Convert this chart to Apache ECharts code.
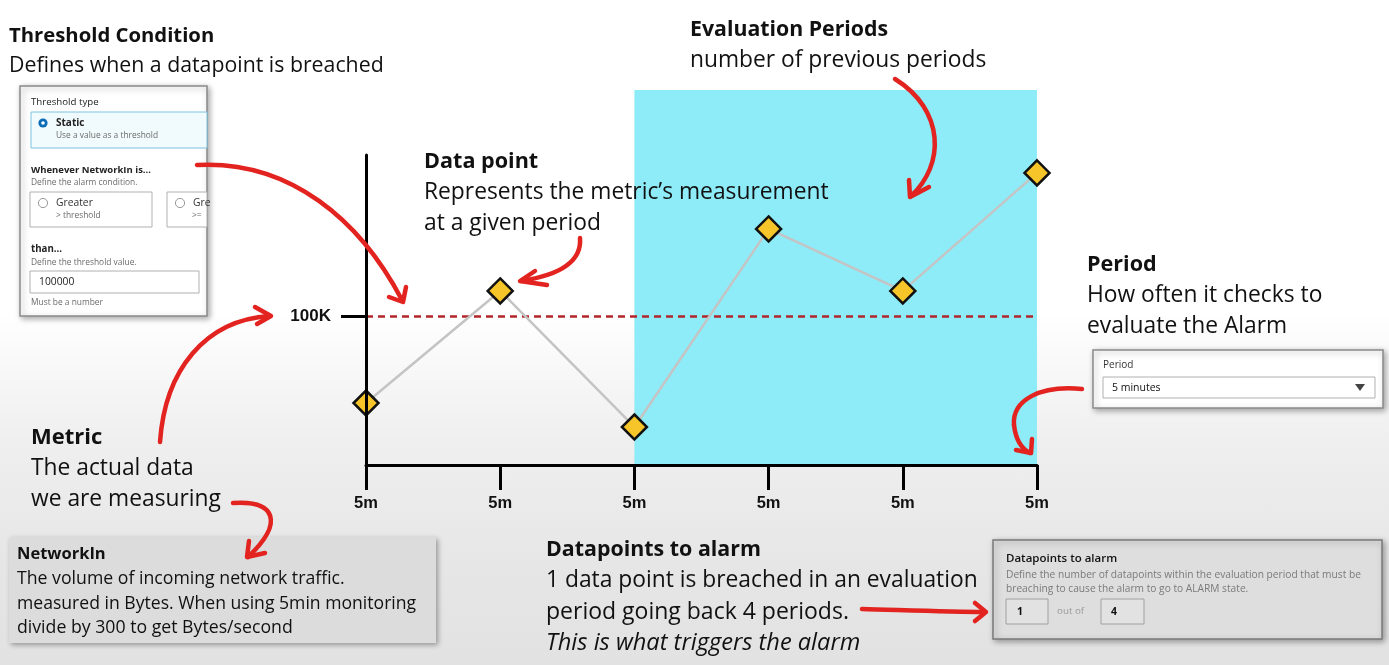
<!DOCTYPE html>
<html>
<head>
<meta charset="utf-8">
<script src="https://cdn.jsdelivr.net/npm/echarts@6/dist/echarts.min.js"></script>
<style>
html,body{margin:0;padding:0;}
#c{width:1389px;height:665px;background:linear-gradient(to bottom,#ffffff 0%,#ffffff 47%,#efefef 66%,#e6e6e6 85%,#e2e2e2 100%);}
</style>
</head>
<body>
<div id="c"></div>
<script>
// ---- data ----
const periods = ['5m', '5m', '5m', '5m', '5m', '5m'];
const networkIn = [41600, 116800, 25500, 158400, 116800, 196000];
const thresholdValue = 100000;
const thresholdLabel = '100K';
const evaluationWindow = [2, 5]; // period indices covered by the evaluation periods

// ---- styling helpers ----
const F = '"Open Sans", sans-serif';
const RED = '#e2231f';

function T(x, y, text, size, extra) {
  return {
    type: 'text', x: x, y: y, z: 60,
    style: Object.assign({
      text: text, fontSize: size, fontFamily: F, fill: '#111',
      align: 'left', verticalAlign: 'middle'
    }, extra || {})
  };
}
function R(x, y, w, h, style, z) {
  return { type: 'rect', z: z || 50, shape: { x: x, y: y, width: w, height: h }, style: style };
}
function curve(p0, p1, p2, p3) {
  return {
    type: 'bezierCurve', z: 80,
    shape: { x1: p0[0], y1: p0[1], cpx1: p1[0], cpy1: p1[1], cpx2: p2[0], cpy2: p2[1], x2: p3[0], y2: p3[1] },
    style: { stroke: RED, lineWidth: 4.5, fill: null, lineCap: 'round' }
  };
}
function head(a, tip, b) {
  return {
    type: 'polyline', z: 80,
    shape: { points: [a, tip, b] },
    style: { stroke: RED, lineWidth: 4.5, fill: null, lineCap: 'round', lineJoin: 'round' }
  };
}
const shadow = { shadowBlur: 6, shadowColor: 'rgba(0,0,0,0.35)', shadowOffsetX: 2, shadowOffsetY: 2 };
const gray = '#6b6b6b';
const B = { fontWeight: 'bold' };

const graphics = [
  // headings and explanations
  T(9, 36, 'Threshold Condition', 20.3, B),
  T(9, 66, 'Defines when a datapoint is breached', 21.3),
  T(690, 30, 'Evaluation Periods', 21.3, B),
  T(690, 61, 'number of previous periods', 22.8),
  T(424, 162, 'Data point', 21.6, B),
  T(424, 193, 'Represents the metric\u2019s measurement', 22.8),
  T(424, 224, 'at a given period', 22.8),
  T(1087, 265, 'Period', 21.6, B),
  T(1087, 296, 'How often it checks to', 22.8),
  T(1087, 327, 'evaluate the Alarm', 22.8),
  T(31, 438, 'Metric', 22, B),
  T(31, 469, 'The actual data', 22.8),
  T(31, 500, 'we are measuring', 22.8),
  T(546, 550, 'Datapoints to alarm', 21.4, B),
  T(546, 581, '1 data point is breached in an evaluation', 22.8),
  T(546, 612, 'period going back 4 periods.', 23),
  T(546, 643, 'This is what triggers the alarm', 23.6, { fontStyle: 'italic' }),

  // Threshold panel
  R(20, 86, 187, 230, Object.assign({ fill: '#ffffff', stroke: '#8a8a8a', lineWidth: 1.5 }, shadow)),
  T(31, 102, 'Threshold type', 9.7, { fill: '#222' }),
  R(31, 112, 176, 36, { fill: '#f1fafd', stroke: '#7cc3de', lineWidth: 1 }),
  { type: 'circle', z: 61, shape: { cx: 43, cy: 123, r: 4.6 }, style: { fill: '#0b6db8' } },
  { type: 'circle', z: 62, shape: { cx: 43, cy: 123, r: 1.8 }, style: { fill: '#ffffff' } },
  T(56, 123, 'Static', 10, { fontWeight: 'bold', fill: '#222' }),
  T(56, 136, 'Use a value as a threshold', 8.4, { fill: gray }),
  T(31, 170, 'Whenever NetworkIn is...', 9.5, { fontWeight: 'bold', fill: '#222' }),
  T(31, 183, 'Define the alarm condition.', 8.4, { fill: gray }),
  R(30, 192, 122, 35, { fill: '#fff', stroke: '#b0b0b0', lineWidth: 1 }),
  { type: 'circle', z: 61, shape: { cx: 43, cy: 203, r: 4.6 }, style: { fill: '#fff', stroke: '#999', lineWidth: 1 } },
  T(56, 203, 'Greater', 10.3, { fill: '#333' }),
  T(56, 216, '> threshold', 8.4, { fill: gray }),
  R(167, 192, 40, 35, { fill: '#fff', stroke: '#b0b0b0', lineWidth: 1 }),
  { type: 'circle', z: 61, shape: { cx: 180, cy: 203, r: 4.6 }, style: { fill: '#fff', stroke: '#999', lineWidth: 1 } },
  T(193, 203, 'Gre', 10.3, { fill: '#333' }),
  T(192, 216, '>=', 8.4, { fill: gray }),
  T(31, 249, 'than...', 9.7, { fontWeight: 'bold', fill: '#222' }),
  T(31, 263, 'Define the threshold value.', 8.4, { fill: gray }),
  R(30, 271, 169, 22, { fill: '#fff', stroke: '#b0b0b0', lineWidth: 1 }),
  T(39, 282, '100000', 10.3, { fill: '#222' }),
  T(31, 303, 'Must be a number', 8.4, { fill: gray }),

  // Period panel
  R(1093, 350, 290, 58, Object.assign({ fill: '#ffffff', stroke: '#8a8a8a', lineWidth: 1.5 }, shadow)),
  T(1103, 365, 'Period', 10, { fill: '#333' }),
  R(1103, 377, 272, 21, { fill: '#fff', stroke: '#b0b0b0', lineWidth: 1 }),
  T(1112, 388, '5 minutes', 10.5, { fill: '#111' }),
  { type: 'polygon', z: 61, shape: { points: [[1355, 384], [1365, 384], [1360, 391]] }, style: { fill: '#444' } },

  // NetworkIn box
  R(9, 537, 427, 106, { fill: '#dcdcdc', shadowBlur: 5, shadowColor: 'rgba(0,0,0,0.35)', shadowOffsetX: 2, shadowOffsetY: 2 }),
  T(17, 554, 'NetworkIn', 16.5, B),
  T(17, 579, 'The volume of incoming network traffic.', 17.7),
  T(17, 604, 'measured in Bytes. When using 5min monitoring', 17.6),
  T(17, 628, 'divide by 300 to get Bytes/second', 17.7),

  // Datapoints to alarm panel
  R(993, 540, 389, 99, Object.assign({ fill: '#dedede', stroke: '#7a7a7a', lineWidth: 1.5 }, shadow)),
  T(1006, 559, 'Datapoints to alarm', 11.5, { fill: '#111', fontWeight: 600 }),
  T(1006, 575, 'Define the number of datapoints within the evaluation period that must be', 10.2, { fill: '#7a7a7a' }),
  T(1006, 589, 'breaching to cause the alarm to go to ALARM state.', 10.2, { fill: '#7a7a7a' }),
  R(1006, 599, 42, 25, { fill: '#e2e2e2', stroke: '#a0a0a0', lineWidth: 1 }),
  T(1017, 612, '1', 10.5, { fill: '#111', fontWeight: 'bold' }),
  T(1057, 611, 'out of', 9.8, { fill: '#9a9a9a' }),
  R(1101, 599, 43, 25, { fill: '#e2e2e2', stroke: '#a0a0a0', lineWidth: 1 }),
  T(1111, 612, '4', 10.5, { fill: '#111', fontWeight: 'bold' }),

  // red arrows
  curve([197, 165], [290, 160], [360, 220], [402, 300]),
  head([406, 287], [403, 302], [389, 297]),
  curve([160, 442], [165, 370], [205, 320], [270, 316]),
  head([255, 307], [271, 316], [257, 324]),
  curve([580, 238], [582, 262], [560, 275], [521, 281]),
  head([535, 271], [520, 281], [547, 285]),
  curve([895, 79], [945, 110], [945, 165], [911, 196]),
  head([909, 180], [910, 197], [929, 187]),
  curve([1082, 389], [1040, 385], [1012, 400], [1014, 425]),
  curve([1014, 425], [1016, 442], [1022, 449], [1030, 453]),
  head([1016, 450], [1031, 453], [1032, 439]),
  curve([233, 503], [275, 500], [285, 522], [248, 557]),
  head([249, 541], [247, 557], [265, 553]),
  curve([862, 609], [900, 610], [950, 612], [985, 612]),
  head([975, 603], [986, 612], [975, 621])
];

const axisFont = '"Liberation Sans", Arial, sans-serif';
const chart = echarts.init(document.getElementById('c'), null, { renderer: 'canvas' });
chart.setOption({
  animation: false,
  backgroundColor: 'transparent',
  grid: [
    { left: 366, right: 352, top: 90, bottom: 200 },
    { left: 366, right: 352, top: 155, bottom: 200 }
  ],
  xAxis: [
    { gridIndex: 0, type: 'category', data: periods, boundaryGap: false, show: false },
    {
      gridIndex: 1, type: 'category', data: periods, boundaryGap: false, z: 10,
      axisLine: { lineStyle: { color: '#000', width: 3 } },
      axisTick: { show: true, length: 25, lineStyle: { color: '#000', width: 3 } },
      axisLabel: { margin: 30, color: '#111', fontSize: 16.5, fontWeight: 'bold', fontFamily: axisFont, interval: 0 },
      splitLine: { show: false }
    }
  ],
  yAxis: [
    { gridIndex: 0, type: 'value', min: 0, max: 252000, show: false },
    {
      gridIndex: 1, type: 'value', min: 0, max: 208000, z: 10,
      axisLine: { show: true, lineStyle: { color: '#000', width: 3 } },
      axisTick: { show: true, length: 25, customValues: [thresholdValue], lineStyle: { color: '#000', width: 3 } },
      axisLabel: {
        customValues: [thresholdValue], margin: 35, color: '#111', fontSize: 17, fontWeight: 'bold',
        fontFamily: axisFont,
        formatter: function (v) { return v === thresholdValue ? thresholdLabel : ''; }
      },
      splitLine: { show: false }
    }
  ],
  series: [
    {
      type: 'line', xAxisIndex: 0, yAxisIndex: 0, data: [], z: 1, silent: true,
      markArea: {
        silent: true,
        itemStyle: { color: '#8eebf8' },
        data: [[{ xAxis: evaluationWindow[0], yAxis: 0 }, { xAxis: evaluationWindow[1], yAxis: 252000 }]]
      }
    },
    {
      type: 'line', xAxisIndex: 1, yAxisIndex: 1, data: networkIn, z: 5,
      lineStyle: { color: '#c4c4c4', width: 2.5 },
      symbol: 'diamond', symbolSize: 25,
      itemStyle: { color: '#f5c52a', borderColor: '#111', borderWidth: 2.5 },
      markLine: {
        silent: true, symbol: 'none',
        label: { show: false },
        lineStyle: { color: '#b0262b', width: 2.5, type: [7, 5] },
        data: [{ yAxis: thresholdValue }]
      }
    }
  ],
  graphic: graphics
});
</script>
</body>
</html>
